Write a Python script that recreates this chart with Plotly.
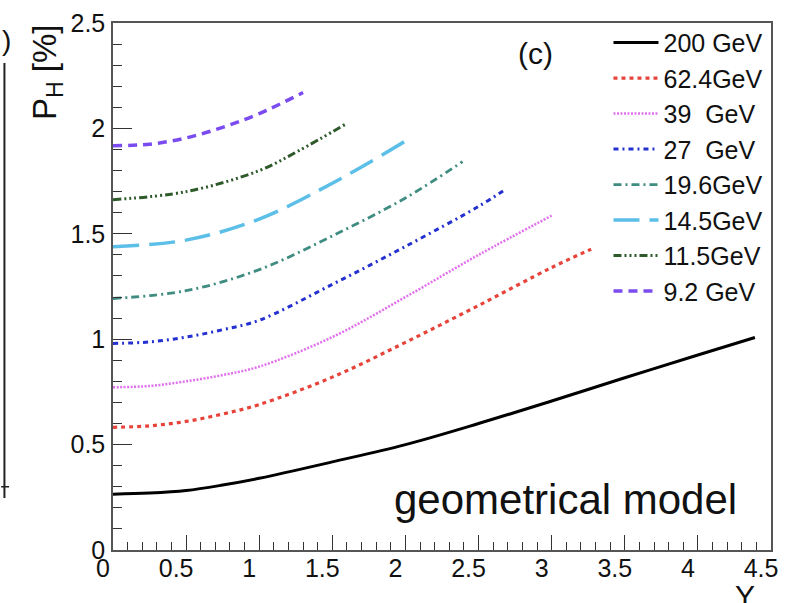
import plotly.graph_objects as go

# ---- data ----
labels = ["200 GeV", "62.4GeV", "39\u00a0\u00a0GeV", "27\u00a0\u00a0GeV",
          "19.6GeV", "14.5GeV", "11.5GeV", "9.2 GeV"]

y_200 = [0.0, 0.25, 0.5, 0.75, 1.0, 1.5, 2.0, 2.5, 3.0, 3.5, 4.0, 4.39]
p_200 = [0.265, 0.27, 0.282, 0.308, 0.34, 0.418, 0.50, 0.60, 0.707, 0.817, 0.925, 1.008]

y_624 = [0.0, 0.25, 0.5, 0.75, 1.0, 1.5, 2.0, 2.5, 3.0, 3.27]
p_624 = [0.582, 0.589, 0.61, 0.645, 0.69, 0.82, 0.985, 1.16, 1.34, 1.427]

y_39 = [0.0, 0.25, 0.5, 0.75, 1.0, 1.5, 2.0, 2.5, 3.0]
p_39 = [0.772, 0.778, 0.80, 0.83, 0.87, 1.01, 1.20, 1.40, 1.586]

y_27 = [0.0, 0.25, 0.5, 0.75, 1.0, 1.5, 2.0, 2.5, 2.69]
p_27 = [0.98, 0.987, 1.01, 1.045, 1.09, 1.26, 1.44, 1.63, 1.714]

y_196 = [0.0, 0.5, 1.0, 1.5, 2.0, 2.39]
p_196 = [1.193, 1.23, 1.33, 1.49, 1.67, 1.842]

y_145 = [0.0, 0.5, 1.0, 1.5, 2.0]
p_145 = [1.439, 1.47, 1.57, 1.74, 1.94]

y_115 = [0.0, 0.5, 1.0, 1.27, 1.59]
p_115 = [1.662, 1.70, 1.80, 1.894, 2.02]

y_92 = [0.0, 0.25, 0.5, 0.75, 1.0, 1.3]
p_92 = [1.918, 1.925, 1.955, 2.005, 2.07, 2.17]

xs = [y_200, y_624, y_39, y_27, y_196, y_145, y_115, y_92]
ys = [p_200, p_624, p_39, p_27, p_196, p_145, p_115, p_92]

colors = ["#000000", "#e8433a", "#e070ec", "#2530d0", "#3f8c80",
          "#5cbfe8", "#2f5a2c", "#7a4cf0"]
dashes = ["solid", "4px,4px", "2px,1.5px", "5px,4px,2px,4px",
          "8px,4px,2px,4px", "26px,10px",
          "8px,3px,2px,3px,2px,3px,2px,3px", "9px,6px"]
widths = [3, 3.2, 2.5, 3, 2.8, 3.5, 3, 3.5]

FONT = "Liberation Sans, Arial, Helvetica, sans-serif"

fig = go.Figure()
for lab, x, y, c, d, w in zip(labels, xs, ys, colors, dashes, widths):
    fig.add_trace(go.Scatter(
        x=x, y=y, mode="lines", name=lab,
        line=dict(color=c, dash=d, width=w, shape="spline"),
    ))

axis_common = dict(
    showgrid=False, zeroline=False, showline=True, mirror=True,
    linecolor="#555555", linewidth=1.5,
    ticks="inside", tickcolor="#333333", tickwidth=1.3,
    tickfont=dict(family=FONT, size=25, color="#111111"),
    ticklabeloverflow="allow",
)

fig.update_xaxes(
    range=[0, 4.5], dtick=0.5, tick0=0, ticklen=15,
    minor=dict(dtick=0.1, ticks="inside", ticklen=8, tickcolor="#333333", tickwidth=1.2),
    ticklabelstandoff=-5, ticklabelshift=-10,
    **axis_common,
)
fig.update_yaxes(
    range=[0, 2.5], dtick=0.5, tick0=0, ticklen=19,
    minor=dict(dtick=0.1, ticks="inside", ticklen=9, tickcolor="#333333", tickwidth=1.2),
    ticklabelstandoff=1,
    **axis_common,
)

fig.update_layout(
    width=787, height=603,
    margin=dict(l=113, r=9, t=22, b=53),
    paper_bgcolor="white", plot_bgcolor="white",
    font=dict(family=FONT, color="#111111"),
    showlegend=True,
    legend=dict(
        x=0.753, y=1.006, xanchor="left", yanchor="top",
        bgcolor="rgba(0,0,0,0)", borderwidth=0,
        font=dict(family=FONT, size=25, color="#111111"),
        tracegroupgap=0, itemwidth=45,
    ),
    annotations=[
        dict(text="P<sub>H</sub> [%]", textangle=-90, xref="paper", yref="paper",
             x=0, y=0.907, xanchor="center", yanchor="middle", xshift=-66,
             showarrow=False, font=dict(family=FONT, size=33, color="#111111")),
        dict(text="Y", xref="paper", yref="paper", x=0.961, y=-0.086,
             xanchor="center", yanchor="middle", showarrow=False,
             font=dict(family=FONT, size=30, color="#111111")),
        dict(text="(c)", xref="paper", yref="paper", x=0.642, y=0.943,
             xanchor="center", yanchor="middle", showarrow=False,
             font=dict(family=FONT, size=30, color="#111111")),
        dict(text="geometrical model", xref="paper", yref="paper", x=0.687, y=0.095,
             xanchor="center", yanchor="middle", showarrow=False,
             font=dict(family=FONT, size=42, color="#111111")),
        dict(text=")", xref="paper", yref="paper", x=-0.162, y=0.966,
             xanchor="center", yanchor="middle", showarrow=False,
             font=dict(family=FONT, size=28, color="#111111")),
    ],
    shapes=[
        dict(type="line", xref="paper", yref="paper", x0=-0.165, x1=-0.165,
             y0=0.0985, y1=0.924, line=dict(color="#222222", width=2)),
        dict(type="line", xref="paper", yref="paper", x0=-0.17, x1=-0.158,
             y0=0.12, y1=0.12, line=dict(color="#222222", width=1.5)),
    ],
)

fig.write_html("out.html")
